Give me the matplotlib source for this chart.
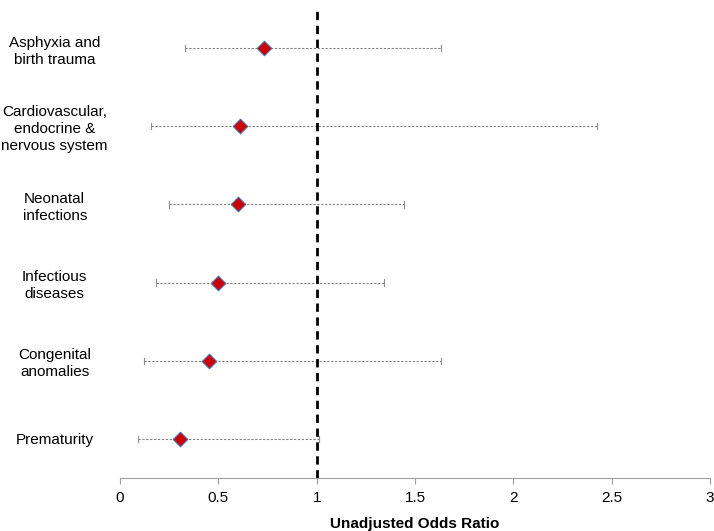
import matplotlib.pyplot as plt

plt.rcParams["font.family"] = ["Liberation Sans", "DejaVu Sans"]

categories = [
    "Prematurity",
    "Congenital\nanomalies",
    "Infectious\ndiseases",
    "Neonatal\ninfections",
    "Cardiovascular,\nendocrine &\nnervous system",
    "Asphyxia and\nbirth trauma",
]
odds_ratio = [0.305, 0.452, 0.497, 0.598, 0.61, 0.732]
ci_low = [0.09, 0.124, 0.183, 0.25, 0.156, 0.33]
ci_high = [1.01, 1.632, 1.342, 1.443, 2.424, 1.632]
x_ticks = [0, 0.5, 1, 1.5, 2, 2.5, 3]
x_tick_labels = ["0", "0.5", "1", "1.5", "2", "2.5", "3"]

fig = plt.figure(figsize=(7.14, 5.31), dpi=100)
ax = fig.add_axes([120 / 714, 1 - 478 / 531, 590 / 714, 469 / 531])

pos = list(range(1, len(categories) + 1))
for y, lo, hi in zip(pos, ci_low, ci_high):
    ax.plot([lo, hi], [y, y], color="#808080", lw=0.8, ls=(0, (2, 1.5)), zorder=2)
    for xe in (lo, hi):
        ax.plot([xe, xe], [y - 0.04, y + 0.04], color="#909090", lw=0.8, zorder=2)

ax.axvline(1, color="black", lw=2, ls=(0, (3, 2)), zorder=3)
ax.scatter(odds_ratio, pos, marker="D", s=55, facecolor="#cc0000",
           edgecolor="#4a6fb0", linewidth=0.8, zorder=4)

ax.set_xlim(0, 3)
ax.set_ylim(0.5, 6.5)
ax.set_xticks(x_ticks)
ax.set_xticklabels(x_tick_labels, fontsize=11)
ax.set_yticks(pos)
ax.set_yticklabels(categories, fontsize=11, ha="center", linespacing=1.27)
ax.tick_params(axis="y", length=0, pad=47)
ax.tick_params(axis="x", length=4, color="#a0a0a0", pad=5)

for side in ("top", "right", "left"):
    ax.spines[side].set_visible(False)
ax.spines["bottom"].set_color("#a0a0a0")
ax.spines["bottom"].set_linewidth(0.8)

ax.set_xlabel("Unadjusted Odds Ratio", fontsize=11, fontweight="bold", labelpad=9)

fig.savefig("out.png", dpi=100)
